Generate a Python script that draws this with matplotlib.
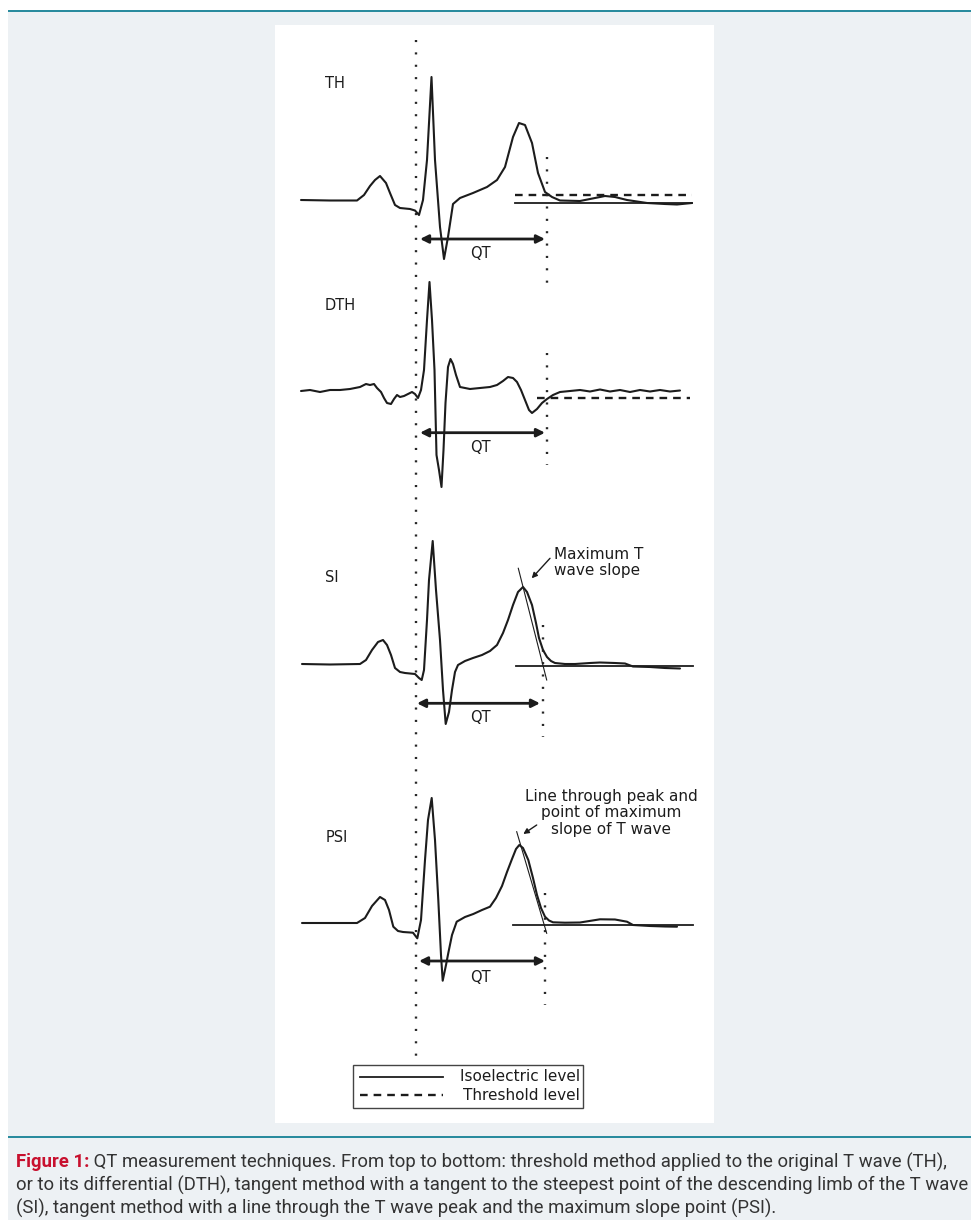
import numpy as np
import matplotlib
matplotlib.use("Agg")
import matplotlib.pyplot as plt
from matplotlib import font_manager
from matplotlib.patches import Rectangle

plt.rcParams["lines.scale_dashes"] = False

# ECG strips: position along the strip (px) and amplitude above the isoelectric baseline (px)
th_t = [301, 330, 357, 364, 370, 375, 380, 386, 390, 395, 400, 410, 415, 419, 423, 427, 431.5, 435,
        440, 444, 448, 453, 460, 473, 487, 497, 505, 513, 519, 525, 532, 538, 545, 552, 560, 580,
        595, 605, 615, 627, 647, 665, 677, 692]
th_amp = [0, -0.5, -0.5, 5, 14, 20, 24, 17, 7, -5, -8, -9, -10.5, -15, 0, 40, 123, 40,
          -27, -59, -37, -4, 2, 7, 13, 20, 33, 63, 77, 75, 57, 27, 8, 3, -0.5, -1,
          2, 4, 3, 0, -3, -4, -4.5, -3]

dth_t = [301, 310, 320, 330, 340, 350, 360, 366, 370, 374, 377, 381, 384, 387, 391, 394, 397, 400,
         404, 408, 412, 415, 418, 421, 424, 427, 429.5, 432, 434.5, 436.5, 439, 441.5, 443.5, 445.5,
         448, 450.5, 453, 456, 460, 470, 480, 490, 497, 503, 508, 513, 517, 521, 525, 529, 532, 537,
         542, 547, 553, 560, 570, 580, 590, 600, 610, 620, 630, 640, 650, 660, 670, 680]
dth_amp = [-1, 0, -2, 0, 0, 1, 3, 6, 5, 6, 2, -2, -8, -13, -14, -9, -5, -7,
           -6, -4, -2, -4, -8, 0, 20, 70, 108, 70, 20, -65, -80, -97, -60, -13,
           23, 31, 26, 15, 3, 1, 2, 3, 5, 9, 13, 12, 8, 0, -10, -20, -23, -19,
           -13, -9, -5, -2, -1, 0, -1.5, 0.5, -1.5, 0, -2, 0, -1.5, 0, -1.5, -0.5]

si_t = [302, 330, 360, 366, 372, 378, 383, 387, 391, 395, 400, 405, 415, 419, 421.7, 424, 427, 429,
        432.7, 436, 440, 443, 445.7, 449, 452, 455, 458, 465, 473, 482, 490, 497, 503, 508, 513,
        518, 523, 527, 532, 536, 539, 543, 547, 551, 555, 565, 575, 590, 600, 615, 625, 633, 650,
        665, 680]
si_amp = [0, -0.5, 0, 4, 14, 22, 24, 19, 9, -4, -8, -9, -10, -14, -16, -6, 44, 84,
          123, 74, 24, -26, -60, -48, -26, -8, -1, 3, 6, 9, 13, 19, 31, 44, 59,
          72, 77, 72, 59, 41, 26, 14, 7, 3, 1, 0, 0, 1, 1.5, 1, 0.5, -2.5, -3,
          -4, -4.5]

psi_t = [302, 330, 357, 365, 372, 380, 385, 389, 393.3, 398, 403, 413, 417.3, 421, 425, 428, 431.7,
         435, 438.3, 441, 442.7, 446, 448.3, 452, 456.7, 465, 473.3, 482, 490, 496, 502, 507, 512,
         516, 519.3, 523, 528.3, 533, 537, 541, 545, 549, 553, 565, 580, 600, 615, 627, 633, 650,
         665, 677]
psi_amp = [0, 0, 0, 5, 17, 26, 23, 13, -3.7, -8, -9, -9.7, -15.3, 3, 63, 103, 125,
           83, 23, -32, -57.7, -42, -30, -12, 1.3, 6, 9, 13, 16.3, 25, 37, 51, 64,
           74, 78, 75, 63, 45, 28, 15, 6.3, 2.5, 0.7, 0.3, 0.5, 3.7, 3.5, 1.3, -2, -3,
           -3.5, -3.7]

panel_names = ["TH", "DTH", "SI", "PSI"]
legend_labels = ["Isoelectric level", "Threshold level"]
si_note = "Maximum T\nwave slope"
psi_note = "Line through peak and\npoint of maximum\nslope of T wave"
caption_head = "Figure 1:"
caption_lines = [
    " QT measurement techniques. From top to bottom: threshold method applied to the original T wave (TH),",
    "or to its differential (DTH), tangent method with a tangent to the steepest point of the descending limb of the T wave",
    "(SI), tangent method with a line through the T wave peak and the maximum slope point (PSI).",
]


def pick_font(names):
    for name in names:
        try:
            font_manager.findfont(font_manager.FontProperties(family=name), fallback_to_default=False)
            return name
        except ValueError:
            continue
    return "DejaVu Sans"


cap_font = pick_font(["Liberation Sans Narrow", "Roboto"])

W, H = 971, 1220
fig = plt.figure(figsize=(W / 100, H / 100), dpi=100)
ax = fig.add_axes([0, 0, 1, 1])
ax.set_xlim(0, W)
ax.set_ylim(H, 0)
ax.axis("off")

bg = "#edf1f4"
teal = "#25899c"
ink = "#1c1c1c"

ax.add_patch(Rectangle((8, 11), W - 8, H - 11, color=bg, lw=0, zorder=0))
ax.plot([8, W], [10.5, 10.5], color=teal, lw=1.4, solid_capstyle="butt", zorder=1)
ax.add_patch(Rectangle((275, 25), 439, 1098, color="white", lw=0, zorder=1))
ax.plot([8, W], [1137, 1137], color=teal, lw=1.4, solid_capstyle="butt", zorder=1)

dots = dict(color="#262626", lw=1.7, linestyle=(0, (1.5, 7.4)), dash_capstyle="butt", zorder=3)
thresh = dict(color=ink, lw=1.7, linestyle=(0, (5.5, 4.3)), dash_capstyle="butt", zorder=3)
txt = dict(fontsize=10.5, color=ink, zorder=5)

# long dotted line marking QRS onset through all four strips
ax.plot([416, 416], [40, 1062], **dots)


def qt_arrow(y, x0, x1, label_y):
    ax.annotate("", xy=(x1, y), xytext=(x0, y),
                arrowprops=dict(arrowstyle="<|-|>", lw=2.0, color=ink, mutation_scale=12,
                                shrinkA=0, shrinkB=0), zorder=4)
    ax.text(480, label_y, "QT", ha="center", va="center", **txt)


def strip(t, amp, base, name, label_pos):
    ax.plot(t, base - np.array(amp), color=ink, lw=1.5, solid_joinstyle="round",
            solid_capstyle="round", zorder=4)
    ax.text(label_pos[0], label_pos[1], name, ha="center", va="center", **txt)


# TH
b = 200
strip(th_t, th_amp, b, panel_names[0], (335, 83))
ax.plot([515, 692], [b + 2.7, b + 2.7], color=ink, lw=1.3, zorder=3)
ax.plot([515, 692], [b - 5, b - 5], **thresh)
qt_arrow(b + 39, 420, 545, b + 53)
ax.plot([547, 547], [157, 285], **dots)

# DTH
b = 390
strip(dth_t, dth_amp, b, panel_names[1], (340, 305))
ax.plot([537, 690], [b + 7.7, b + 7.7], **thresh)
qt_arrow(b + 42.7, 420, 545, b + 58)
ax.plot([547, 547], [353, 465], **dots)

# SI
b = 664
strip(si_t, si_amp, b, panel_names[2], (332, 578))
ax.plot([516, 693], [b + 2, b + 2], color=ink, lw=1.3, zorder=3)
ax.plot([518.3, 546.7], [b - 95.7, b + 16], color=ink, lw=0.8, zorder=4)
qt_arrow(b + 39.3, 417, 540, b + 54)
ax.plot([543.3, 543.3], [625, 737], **dots)
ax.annotate("", xy=(531.7, 578.3), xytext=(550, 558.3),
            arrowprops=dict(arrowstyle="-|>", lw=1.0, color=ink, mutation_scale=8,
                            shrinkA=0, shrinkB=0), zorder=4)
ax.text(554, 562.5, si_note, ha="left", va="center", linespacing=1.15, fontsize=11,
        color=ink, zorder=5)

# PSI
b = 923
strip(psi_t, psi_amp, b, panel_names[3], (337, 837))
ax.plot([513, 693], [b + 2, b + 2], color=ink, lw=1.3, zorder=3)
ax.plot([516.7, 546.7], [b - 91.3, b + 10.3], color=ink, lw=0.8, zorder=4)
qt_arrow(b + 38, 419, 545, b + 55)
ax.plot([545, 545], [893, 1005], **dots)
ax.annotate("", xy=(523.3, 834), xytext=(536.7, 825),
            arrowprops=dict(arrowstyle="-|>", lw=1.0, color=ink, mutation_scale=8,
                            shrinkA=0, shrinkB=0), zorder=4)
ax.text(611, 813, psi_note, ha="center", va="center", linespacing=1.1, fontsize=11,
        color=ink, zorder=5)

# legend box
ax.add_patch(Rectangle((353, 1065), 230, 43, fill=False, ec="#444444", lw=1.0, zorder=3))
ax.plot([360, 443], [1076.7, 1076.7], color=ink, lw=1.3, zorder=4)
ax.plot([360, 443], [1095, 1095], **thresh)
ax.text(580, 1076.7, legend_labels[0], ha="right", va="center", fontsize=11, color=ink, zorder=5)
ax.text(580, 1095, legend_labels[1], ha="right", va="center", fontsize=11, color=ink, zorder=5)

# caption
renderer = fig.canvas.get_renderer()
probe = ax.text(16, 1185, caption_lines[1], family=cap_font, fontsize=12, color="#333333",
                va="center")
w = probe.get_window_extent(renderer).width
cap_fs = 12 * 950 / w
probe.set_fontsize(cap_fs)

head = ax.text(16, 1162, caption_head, family=cap_font, fontsize=cap_fs, fontweight="bold",
               color="#c8102e", va="center")
hw = head.get_window_extent(renderer).width
ax.text(16 + hw, 1162, caption_lines[0], family=cap_font, fontsize=cap_fs, color="#333333",
        va="center")
ax.text(16, 1208, caption_lines[2], family=cap_font, fontsize=cap_fs, color="#333333",
        va="center")

fig.savefig("out.png", dpi=100)
